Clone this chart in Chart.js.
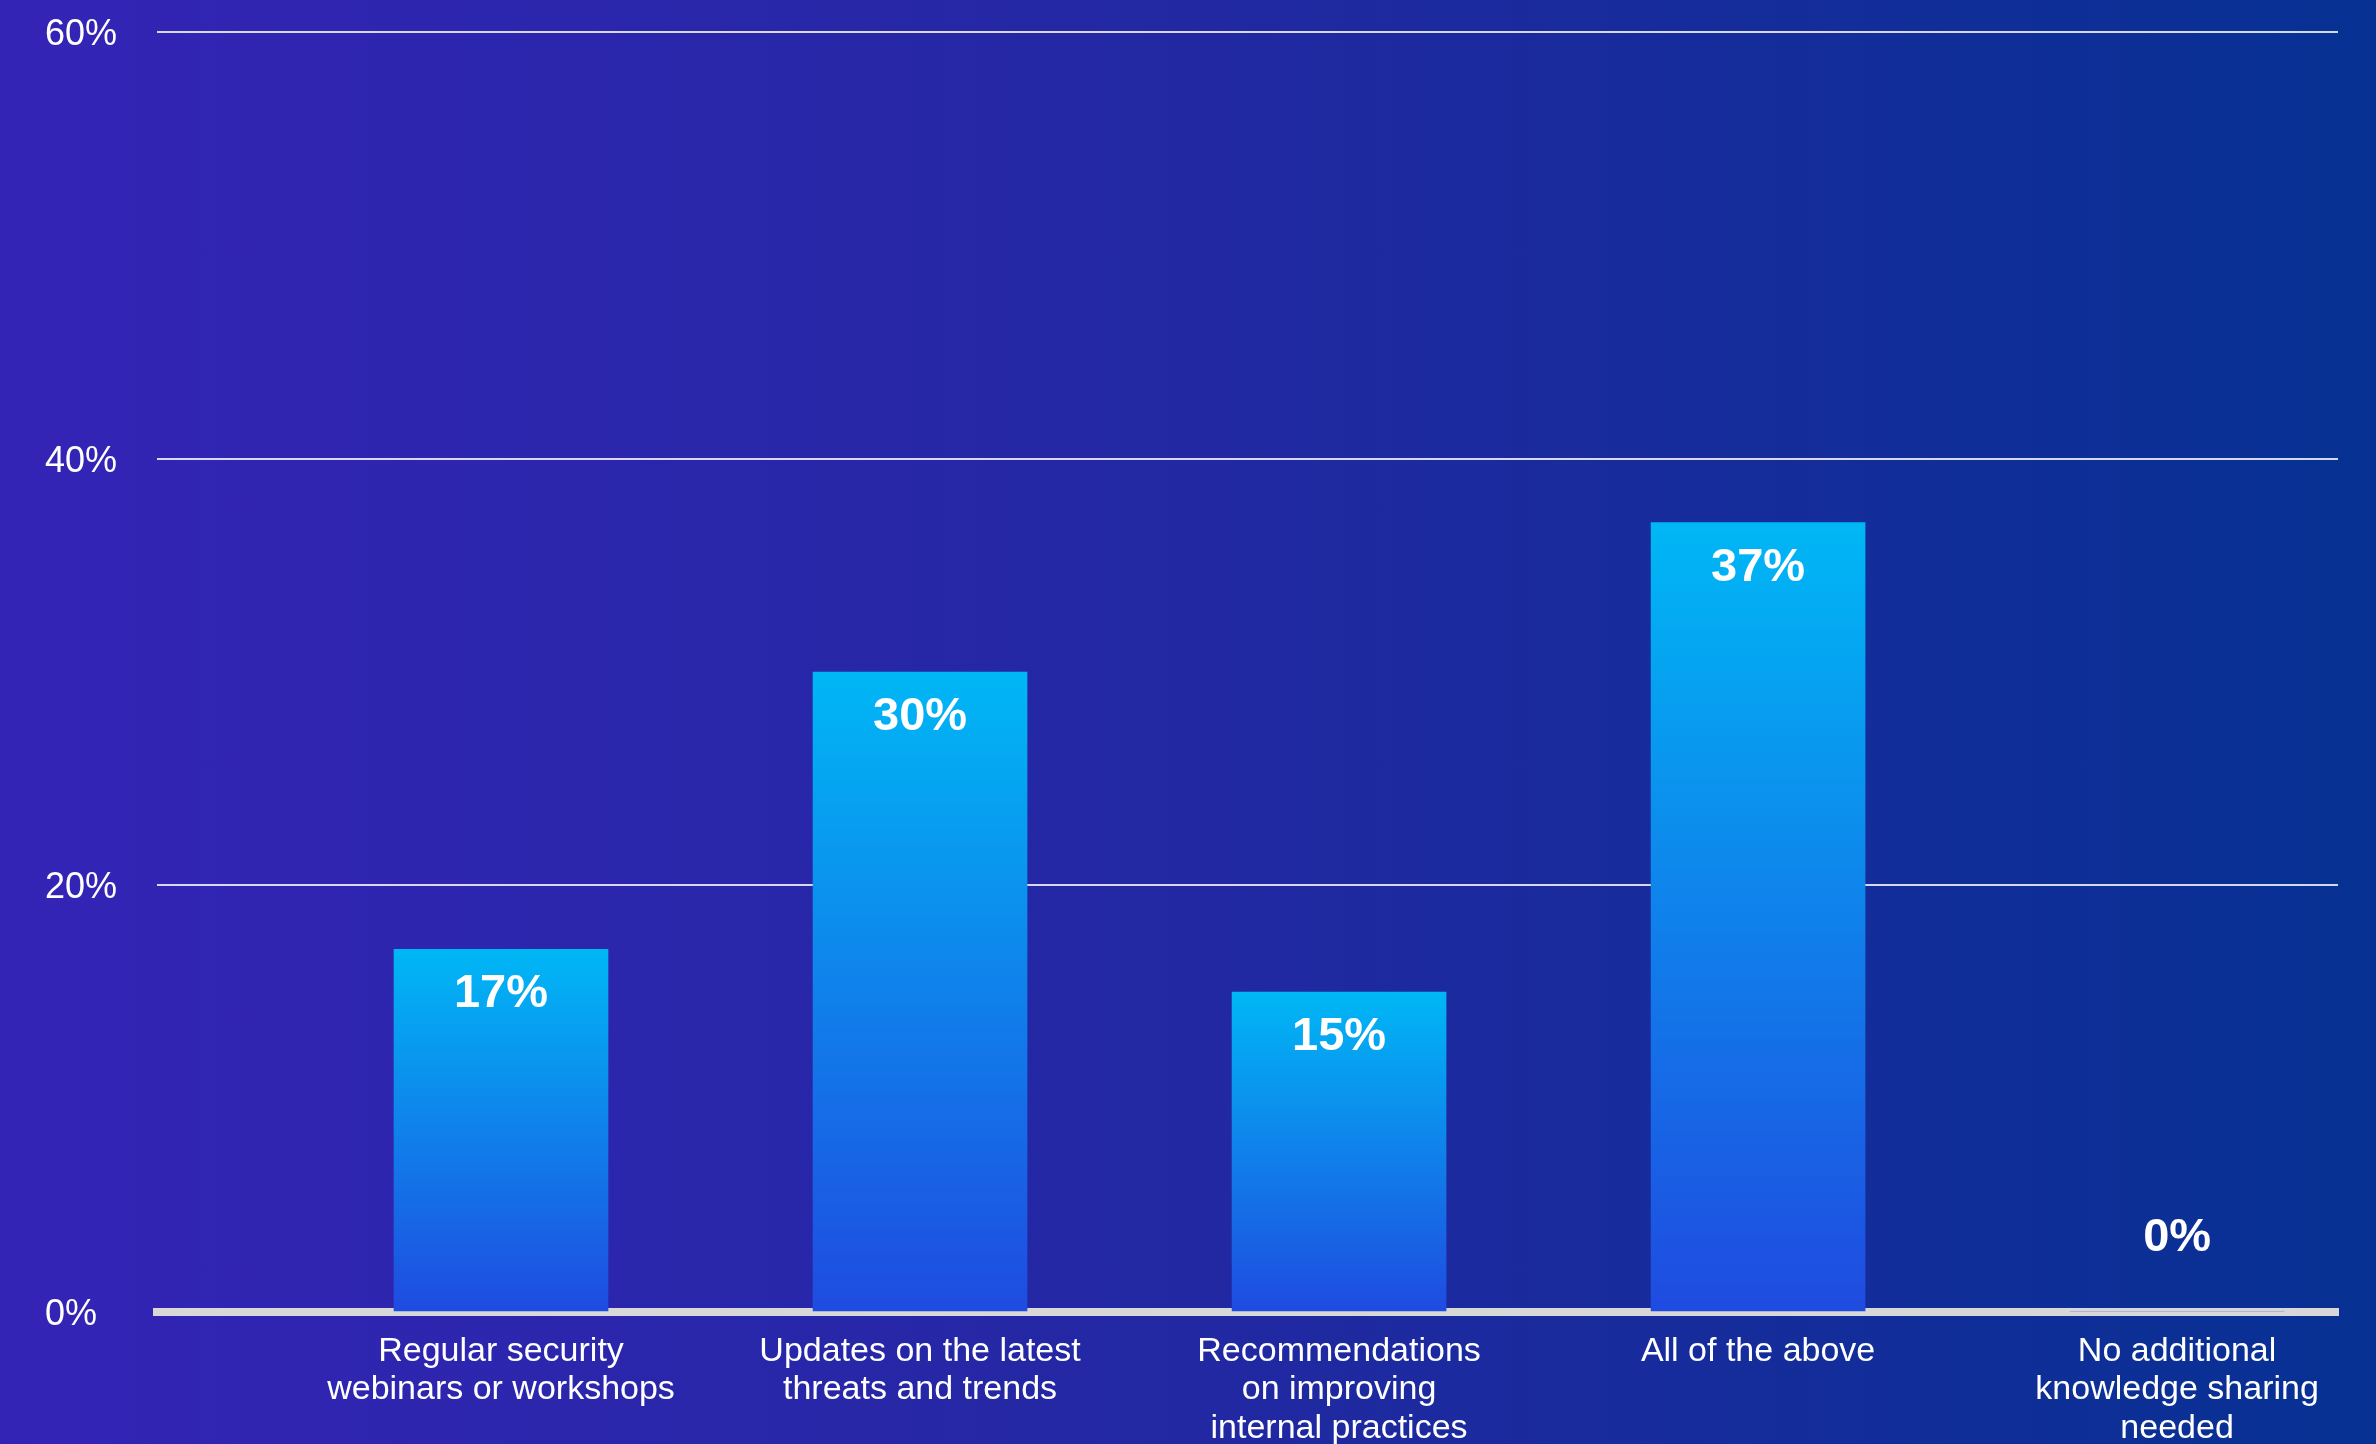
<!DOCTYPE html>
<html>
<head>
<meta charset="utf-8">
<script src="https://cdn.jsdelivr.net/npm/chart.js@4"></script>
<style>
  html, body { margin: 0; padding: 0; }
  body {
    width: 2376px; height: 1444px; overflow: hidden;
    background: linear-gradient(90deg, #3424b6 0%, #2228a2 50%, #073193 100%);
  }
  #wrap { width: 2376px; height: 1444px; }
</style>
</head>
<body>
<div id="wrap"><canvas id="chart"></canvas></div>
<script>
// survey answers, share of respondents (%)
const categories = [
  ["Regular security", "webinars or workshops"],
  ["Updates on the latest", "threats and trends"],
  ["Recommendations", "on improving", "internal practices"],
  ["All of the above"],
  ["No additional", "knowledge sharing", "needed"]
];
const values = [17, 30, 15, 37, 0];
const yTicks = [0, 20, 40, 60];

const FONT = "'Liberation Sans', Arial, sans-serif";

// bars fade from cyan at the top to blue at the base
function barGradient(ctx) {
  const chart = ctx.chart;
  const y = chart.scales.y;
  if (!y || ctx.raw == null) return "#1a8ef0";
  const top = y.getPixelForValue(ctx.raw.y);
  const base = y.getPixelForValue(0);
  if (!(base > top)) return "#1f4be0";
  const g = chart.ctx.createLinearGradient(0, top, 0, base);
  g.addColorStop(0, "#00b7f5");
  g.addColorStop(1, "#1f4be0");
  return g;
}

// percentage text inside the bar head, or above the axis for empty bars
const valueLabels = {
  id: "valueLabels",
  afterDatasetsDraw(chart) {
    const { ctx } = chart;
    const meta = chart.getDatasetMeta(0);
    ctx.save();
    ctx.fillStyle = "#ffffff";
    ctx.font = "bold 47px " + FONT;
    ctx.textAlign = "center";
    ctx.textBaseline = "middle";
    meta.data.forEach((bar, i) => {
      const v = values[i];
      const y = v > 0 ? bar.y + 45 : bar.base - 74;
      ctx.fillText(v + "%", bar.x, y);
    });
    ctx.restore();
  }
};

new Chart(document.getElementById("chart"), {
  type: "bar",
  data: {
    datasets: [{
      data: values.map((v, i) => ({ x: i, y: v })),
      backgroundColor: barGradient,
      borderWidth: 0,
      barThickness: 214
    }]
  },
  options: {
    responsive: true,
    maintainAspectRatio: false,
    animation: false,
    layout: { padding: { left: 45, top: 32, right: 38, bottom: 0 } },
    plugins: { legend: { display: false }, tooltip: { enabled: false } },
    scales: {
      x: {
        type: "linear",
        min: -0.821,
        max: 4.384,
        offset: false,
        z: 1,
        afterBuildTicks: s => { s.ticks = categories.map((_, i) => ({ value: i })); },
        afterFit: s => { s.height = 132; },
        grid: { display: false, offset: false },
        border: { display: true, color: "#d8d8d8", width: 8 },
        ticks: {
          autoSkip: false,
          maxRotation: 0,
          padding: 13,
          color: "#ffffff",
          font: { family: FONT, size: 34, lineHeight: 1.12 },
          callback: v => categories[v] || ""
        }
      },
      y: {
        min: 0,
        max: 60,
        afterBuildTicks: s => { s.ticks = yTicks.map(v => ({ value: v })); },
        afterFit: s => { s.width = 112; },
        border: { display: false },
        grid: {
          drawTicks: false,
          lineWidth: 2,
          color: c => (c.tick && c.tick.value === 0) ? "rgba(0,0,0,0)" : "rgba(235,235,245,0.9)"
        },
        ticks: {
          crossAlign: "far",
          padding: 0,
          labelOffset: 3,
          color: "#ffffff",
          font: { family: FONT, size: 36 },
          callback: v => v + "%"
        }
      }
    }
  },
  plugins: [valueLabels]
});
</script>
</body>
</html>
